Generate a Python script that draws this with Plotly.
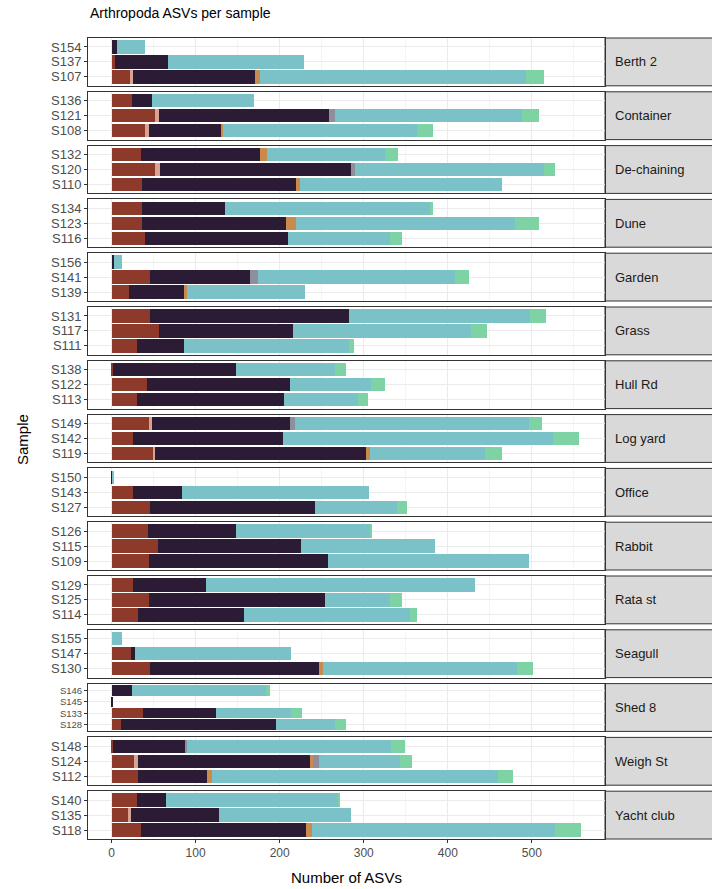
import plotly.graph_objects as go
from plotly.subplots import make_subplots

# ---------------- data ----------------
facets = ["Berth 2", "Container", "De-chaining", "Dune", "Garden", "Grass", "Hull Rd",
          "Log yard", "Office", "Rabbit", "Rata st", "Seagull", "Shed 8", "Weigh St", "Yacht club"]

sample_facet = ["Berth 2"] * 3 + ["Container"] * 3 + ["De-chaining"] * 3 + ["Dune"] * 3 + \
               ["Garden"] * 3 + ["Grass"] * 3 + ["Hull Rd"] * 3 + ["Log yard"] * 3 + \
               ["Office"] * 3 + ["Rabbit"] * 3 + ["Rata st"] * 3 + ["Seagull"] * 3 + \
               ["Shed 8"] * 4 + ["Weigh St"] * 3 + ["Yacht club"] * 3

samples = ["S107", "S137", "S154",
           "S108", "S121", "S136",
           "S110", "S120", "S132",
           "S116", "S123", "S134",
           "S139", "S141", "S156",
           "S111", "S117", "S131",
           "S113", "S122", "S138",
           "S119", "S142", "S149",
           "S127", "S143", "S150",
           "S109", "S115", "S126",
           "S114", "S125", "S129",
           "S130", "S147", "S155",
           "S128", "S133", "S145", "S146",
           "S112", "S124", "S148",
           "S118", "S135", "S140"]

arachnida = [22, 4, 0, 40, 52, 24, 36, 52, 35, 40, 36, 36, 21, 46, 0, 30, 57, 46, 30, 42, 2,
             50, 26, 44, 46, 26, 0, 44, 55, 43, 32, 44, 26, 46, 23, 0, 11, 37, 0, 0, 31, 27, 2,
             35, 19, 30]
chilopoda = [4, 0, 0, 4, 4, 0, 0, 6, 0, 0, 0, 0, 0, 0, 0, 0, 0, 0, 0, 0, 0,
             2, 0, 4, 0, 0, 0, 0, 0, 0, 0, 0, 0, 0, 0, 0, 0, 0, 0, 0, 0, 4, 0,
             0, 4, 0]
collembola = [145, 63, 7, 86, 203, 24, 184, 227, 142, 170, 172, 99, 65, 119, 3, 56, 159, 236,
              175, 170, 146, 251, 178, 164, 196, 58, 1, 214, 170, 105, 126, 210, 86, 201, 5, 0,
              185, 87, 1, 24, 83, 205, 86, 196, 105, 35]
diplopoda = [6, 0, 0, 3, 0, 0, 4, 0, 8, 0, 12, 0, 4, 0, 0, 0, 0, 0, 0, 0, 0,
             5, 0, 0, 0, 0, 0, 0, 0, 0, 0, 0, 0, 4, 0, 0, 0, 0, 0, 0, 6, 4, 0,
             8, 0, 0]
entognatha = [0, 0, 0, 0, 7, 0, 0, 5, 0, 0, 0, 0, 0, 9, 0, 0, 0, 0, 0, 0, 0,
              0, 0, 6, 0, 0, 0, 0, 0, 0, 0, 0, 0, 0, 0, 0, 0, 0, 0, 0, 0, 7, 2,
              0, 0, 0]
insecta = [316, 162, 33, 230, 222, 122, 240, 225, 140, 121, 260, 245, 140, 235, 10, 196, 212,
           216, 88, 97, 118, 136, 321, 278, 97, 222, 1, 238, 160, 160, 197, 77, 320, 231, 185,
           12, 70, 89, 0, 160, 340, 96, 242, 289, 157, 204]
malacostraca = [22, 0, 0, 19, 20, 0, 0, 13, 16, 14, 28, 2, 0, 16, 0, 7, 19, 19, 12, 16, 13,
                20, 31, 16, 13, 0, 0, 0, 0, 2, 8, 15, 0, 19, 0, 0, 13, 14, 0, 5, 17, 14, 17,
                31, 0, 3]

classes = ["Arachnida", "Chilopoda", "Collembola", "Diplopoda", "Entognatha", "Insecta", "Malacostraca"]
class_values = [arachnida, chilopoda, collembola, diplopoda, entognatha, insecta, malacostraca]
class_colors = ["#8E3A2A", "#D7A393", "#2C1B34", "#C98A4E", "#8E8F9C", "#7BC2C8", "#7ED3A4"]

x_ticks = [0, 100, 200, 300, 400, 500]

# ---------------- figure ----------------
W, H = 712, 889
n = len(facets)
fig = make_subplots(rows=n, cols=1, shared_xaxes=True, vertical_spacing=0.0)

left_px, right_px = 88, 605
top0, pitch, ph = 38, 53.8, 47.8
FONT = "Liberation Sans Narrow, Liberation Sans, Arial"

for r, fac in enumerate(facets, start=1):
    idx = [i for i, f in enumerate(sample_facet) if f == fac]
    ys = [samples[i] for i in idx]
    for cname, vals, col in zip(classes, class_values, class_colors):
        fig.add_trace(go.Bar(
            y=ys, x=[vals[i] for i in idx], orientation="h", name=cname,
            marker=dict(color=col, line=dict(width=0)),
            showlegend=False, hoverinfo="x+y+name"), row=r, col=1)

    top = top0 + (r - 1) * pitch
    bot = top + ph
    ydom = [1 - bot / H, 1 - top / H]
    ncat = len(ys)
    yname = "yaxis" if r == 1 else f"yaxis{r}"
    xname = "xaxis" if r == 1 else f"xaxis{r}"
    fig.layout[yname].update(
        domain=ydom, type="category", categoryorder="array", categoryarray=ys,
        tickmode="array", tickvals=ys, ticktext=ys,
        range=[-0.6, ncat - 0.4], showgrid=True, gridcolor="#EBEBEB", gridwidth=1,
        showline=True, mirror=True, linecolor="#333333", linewidth=1,
        ticks="outside", ticklen=3, tickcolor="#333333",
        tickfont=dict(family=FONT, size=13 if ncat <= 3 else 9.5, color="#4D4D4D"),
        zeroline=False, automargin=False, fixedrange=True)
    fig.layout[xname].update(
        domain=[left_px / W, right_px / W], range=[-28, 587],
        tickvals=x_ticks, showgrid=True, gridcolor="#EBEBEB", gridwidth=1,
        minor=dict(dtick=50, tick0=50, showgrid=True, gridcolor="#F4F4F4", gridwidth=0.6),
        showline=True, mirror=True, linecolor="#333333", linewidth=1,
        ticks="outside" if r == n else "", ticklen=3, tickcolor="#333333",
        showticklabels=(r == n),
        tickfont=dict(family="Liberation Sans, Arial", size=12, color="#4D4D4D"),
        zeroline=False, automargin=False, fixedrange=True)

    # strip
    fig.add_shape(type="rect", xref="paper", yref="paper",
                  x0=right_px / W, x1=1.02, y0=ydom[0], y1=ydom[1],
                  fillcolor="#D9D9D9", line=dict(color="#333333", width=1), layer="below")
    fig.add_annotation(text=fac, xref="paper", yref="paper",
                       x=613 / W, y=(ydom[0] + ydom[1]) / 2, xanchor="left", yanchor="middle",
                       showarrow=False,
                       font=dict(family="Liberation Sans, Arial", size=13, color="#1A1A1A"))

# titles
fig.add_annotation(text="Arthropoda ASVs per sample", xref="paper", yref="paper",
                   x=left_px / W, y=1 - 13 / H, xanchor="left", yanchor="middle", showarrow=False,
                   font=dict(family="Liberation Sans, Arial", size=14, color="#000000"))
fig.add_annotation(text="Number of ASVs", xref="paper", yref="paper",
                   x=(left_px + right_px) / 2 / W, y=1 - 877 / H, xanchor="center", yanchor="middle",
                   showarrow=False, font=dict(family="Liberation Sans, Arial", size=15, color="#000000"))
fig.add_annotation(text="Sample", xref="paper", yref="paper",
                   x=22 / W, y=1 - 440 / H, xanchor="center", yanchor="middle", textangle=-90,
                   showarrow=False, font=dict(family="Liberation Sans, Arial", size=15, color="#000000"))

fig.update_layout(width=W, height=H, margin=dict(l=0, r=0, t=0, b=0),
                  barmode="stack", bargap=0.1, plot_bgcolor="white", paper_bgcolor="white",
                  showlegend=False)

fig.write_html("out.html")
